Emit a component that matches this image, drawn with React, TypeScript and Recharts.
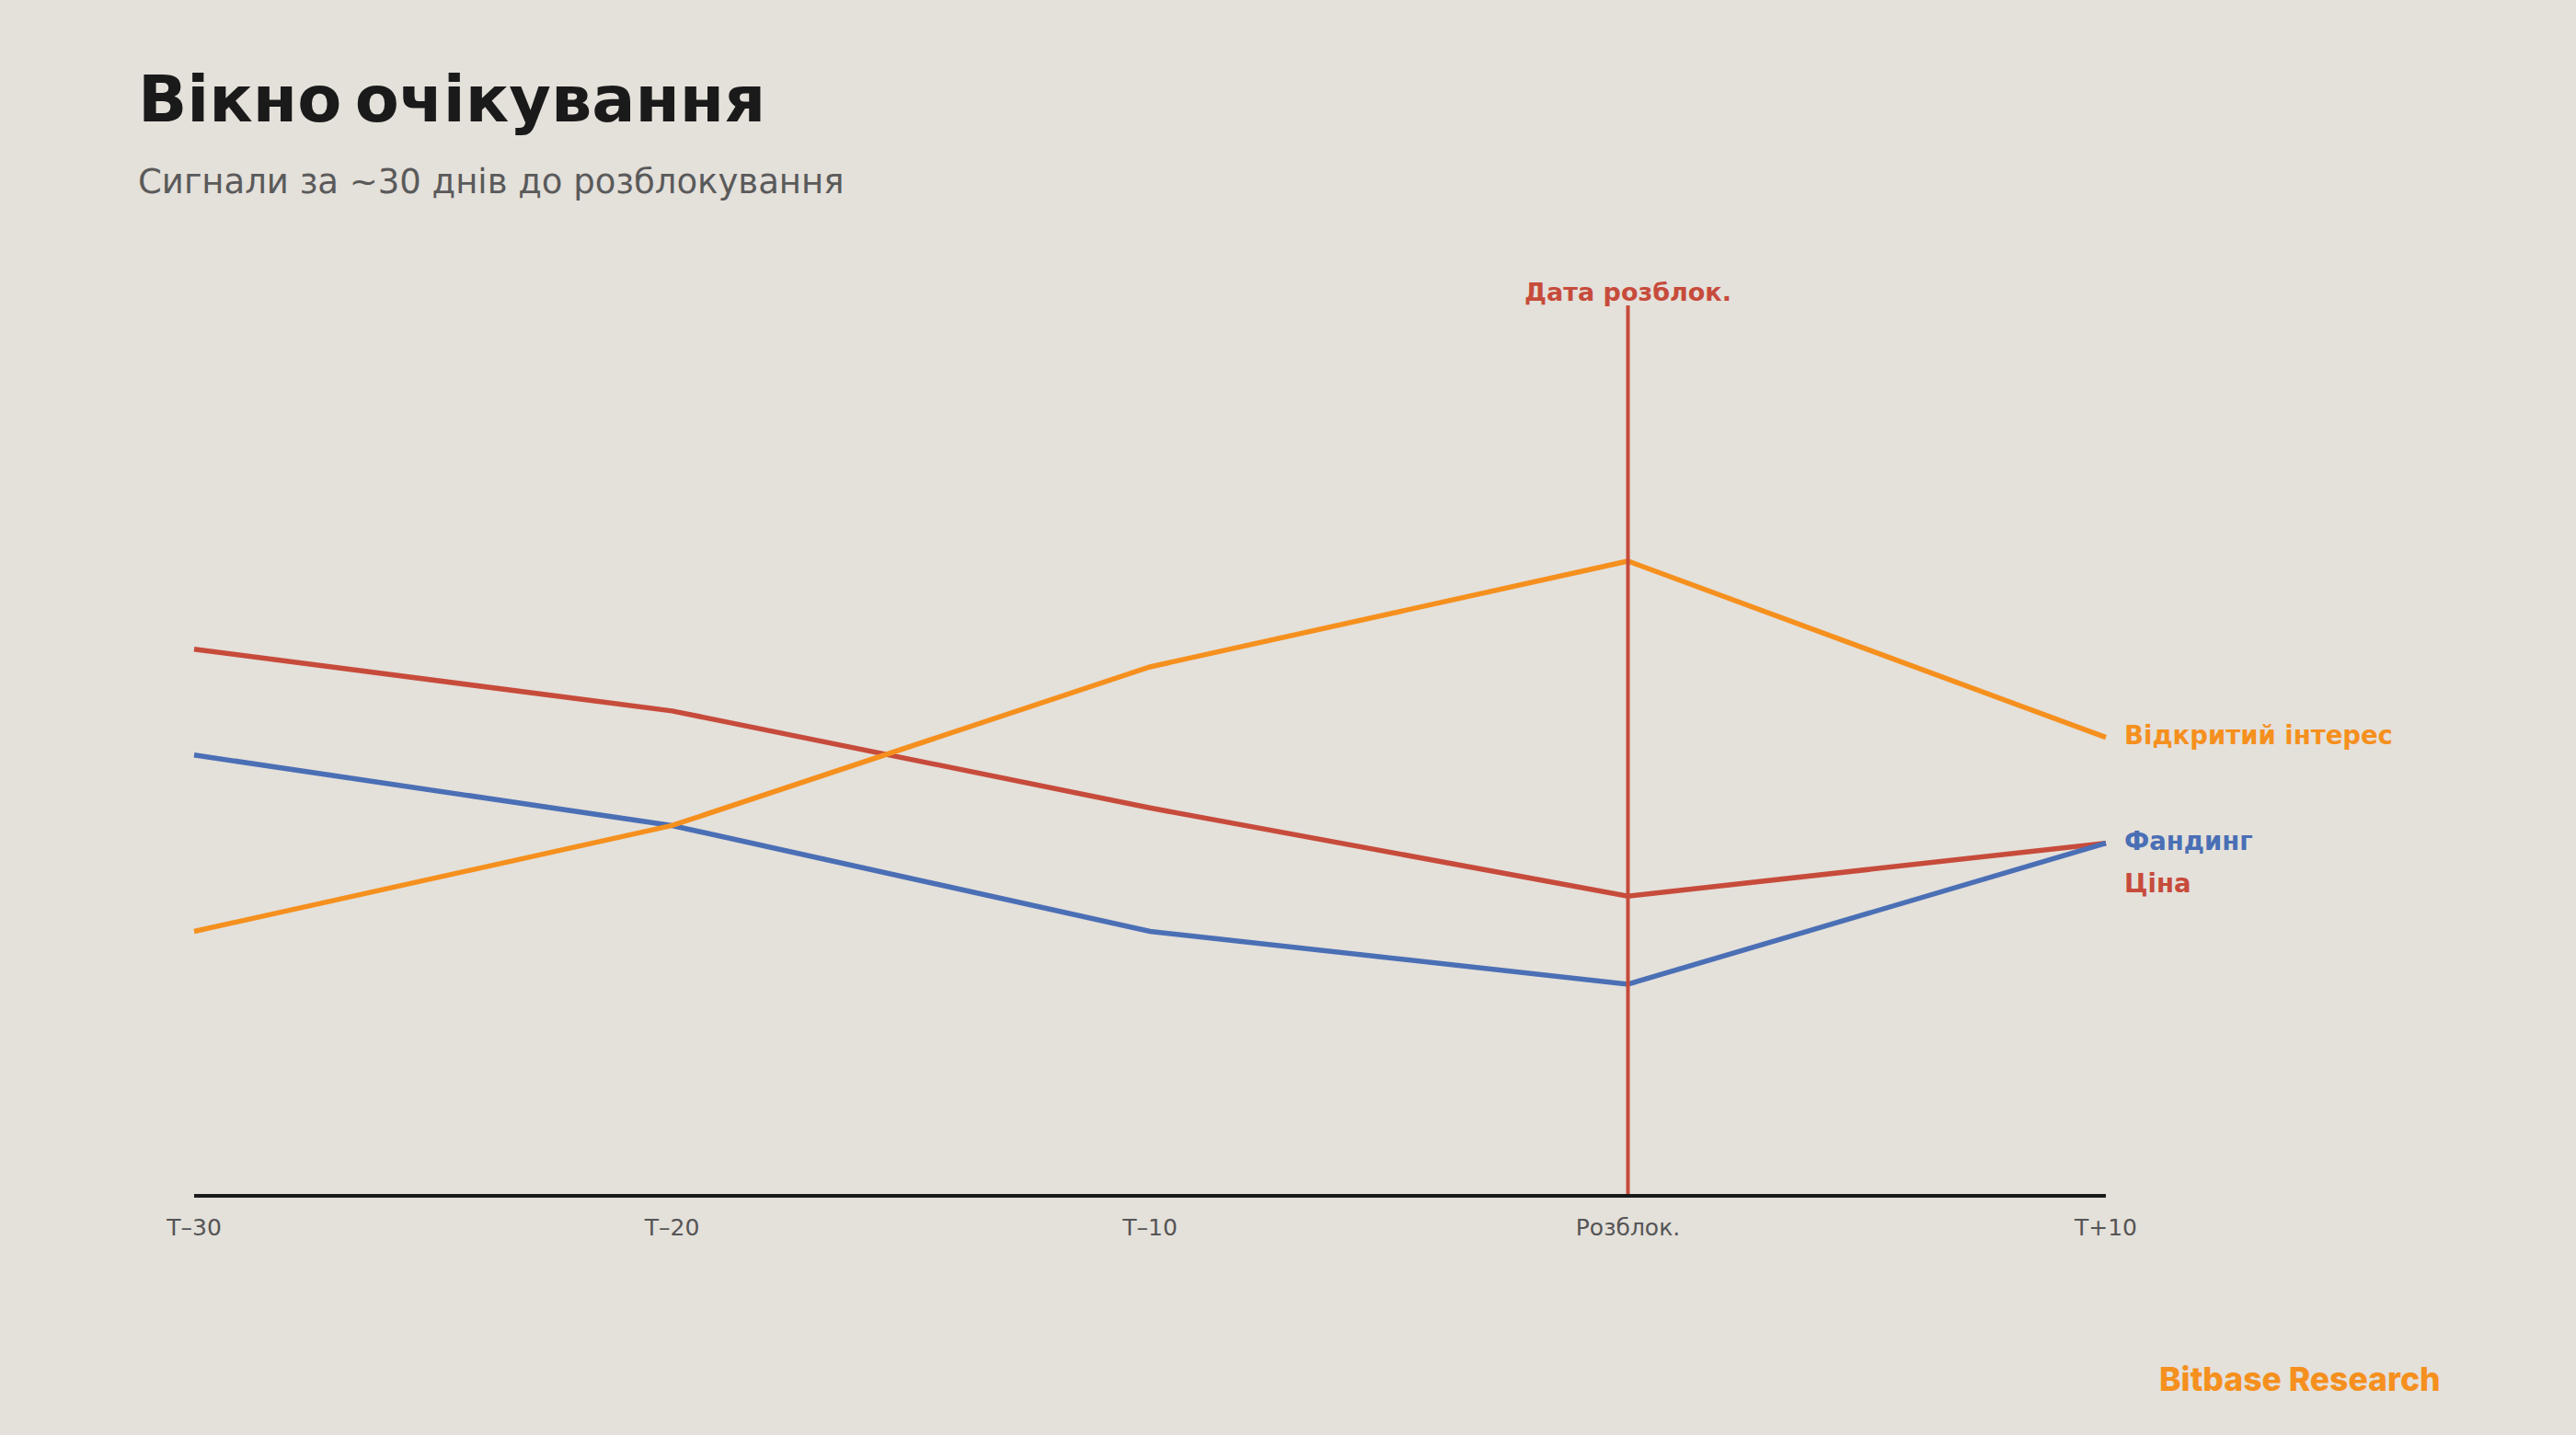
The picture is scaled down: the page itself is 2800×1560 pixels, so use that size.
import React from 'react';
import { LineChart, Line, XAxis, YAxis, ReferenceLine } from 'recharts';

const categories = ['T–30', 'T–20', 'T–10', 'Розблок.', 'T+10'];
const openInterest = [30, 42, 60, 72, 52];
const funding = [50, 42, 30, 24, 40];
const price = [62, 55, 44, 34, 40];

const unlockCategory = 'Розблок.';
const title = 'Вікно очікування';
const subtitle = 'Сигнали за ~30 днів до розблокування';
const unlockLabel = 'Дата розблок.';
const brand = 'Bitbase Research';

const COLORS = {
  bg: '#e4e0da',
  orange: '#f5901e',
  red: '#c74b3b',
  blue: '#4a6fb5',
  axis: '#1a1a1a',
  tick: '#555555',
  title: '#1a1a1a',
  subtitle: '#5a5a5a',
};

const data = categories.map((c, i) => ({
  cat: c,
  oi: openInterest[i],
  funding: funding[i],
  price: price[i],
}));

const makeEndLabel = (text: string, color: string, dy: number) => (props: any) => {
  const { x, y, index } = props;
  if (index !== categories.length - 1) return null;
  return (
    <text
      x={Number(x) + 20}
      y={Number(y) + dy}
      fill={color}
      fontSize={27.5}
      fontWeight={700}
      fontFamily="DejaVu Sans"
    >
      {text}
    </text>
  );
};

export default function App() {
  return (
    <div
      style={{
        position: 'fixed',
        left: 0,
        top: 0,
        width: 2800,
        height: 1560,
        background: COLORS.bg,
        overflow: 'hidden',
      }}
    >
      <div style={{ position: 'absolute', left: 0, top: 0 }}>
        <LineChart
          width={2800}
          height={1560}
          data={data}
          margin={{ top: 332, left: 211, right: 511, bottom: 200 }}
        >
          <XAxis
            dataKey="cat"
            height={60}
            axisLine={{ stroke: COLORS.axis, strokeWidth: 4 }}
            tickLine={false}
            tickMargin={19}
            tick={{ fill: COLORS.tick, fontSize: 25, fontFamily: 'DejaVu Sans' }}
            interval={0}
          />
          <YAxis hide domain={[0, 101]} />
          <Line
            dataKey="price"
            stroke={COLORS.red}
            strokeWidth={5.5}
            dot={false}
            activeDot={false}
            isAnimationActive={false}
            label={makeEndLabel('Ціна', COLORS.red, 53)}
          />
          <Line
            dataKey="funding"
            stroke={COLORS.blue}
            strokeWidth={5.5}
            dot={false}
            activeDot={false}
            isAnimationActive={false}
            label={makeEndLabel('Фандинг', COLORS.blue, 7)}
          />
          <Line
            dataKey="oi"
            stroke={COLORS.orange}
            strokeWidth={5.5}
            dot={false}
            activeDot={false}
            isAnimationActive={false}
            label={makeEndLabel('Відкритий інтерес', COLORS.orange, 7)}
          />
          <ReferenceLine
            x={unlockCategory}
            stroke={COLORS.red}
            strokeWidth={4}
            label={{
              value: unlockLabel,
              position: 'top',
              offset: 5,
              fill: COLORS.red,
              fontSize: 27,
              fontWeight: 700,
              fontFamily: 'DejaVu Sans',
            }}
          />
        </LineChart>
      </div>
      <svg
        width={2800}
        height={1560}
        style={{ position: 'absolute', left: 0, top: 0, pointerEvents: 'none' }}
      >
        <text
          x={150}
          y={132}
          fill={COLORS.title}
          fontSize={70}
          fontWeight={700}
          fontFamily="DejaVu Sans"
          wordSpacing={-10}
        >
          {title}
        </text>
        <text x={150} y={210} fill={COLORS.subtitle} fontSize={37} fontFamily="DejaVu Sans">
          {subtitle}
        </text>
        <text x={2347} y={1512} fill={COLORS.orange} fontSize={35.5} fontWeight={800} fontFamily="Inter">
          {brand}
        </text>
      </svg>
    </div>
  );
}
